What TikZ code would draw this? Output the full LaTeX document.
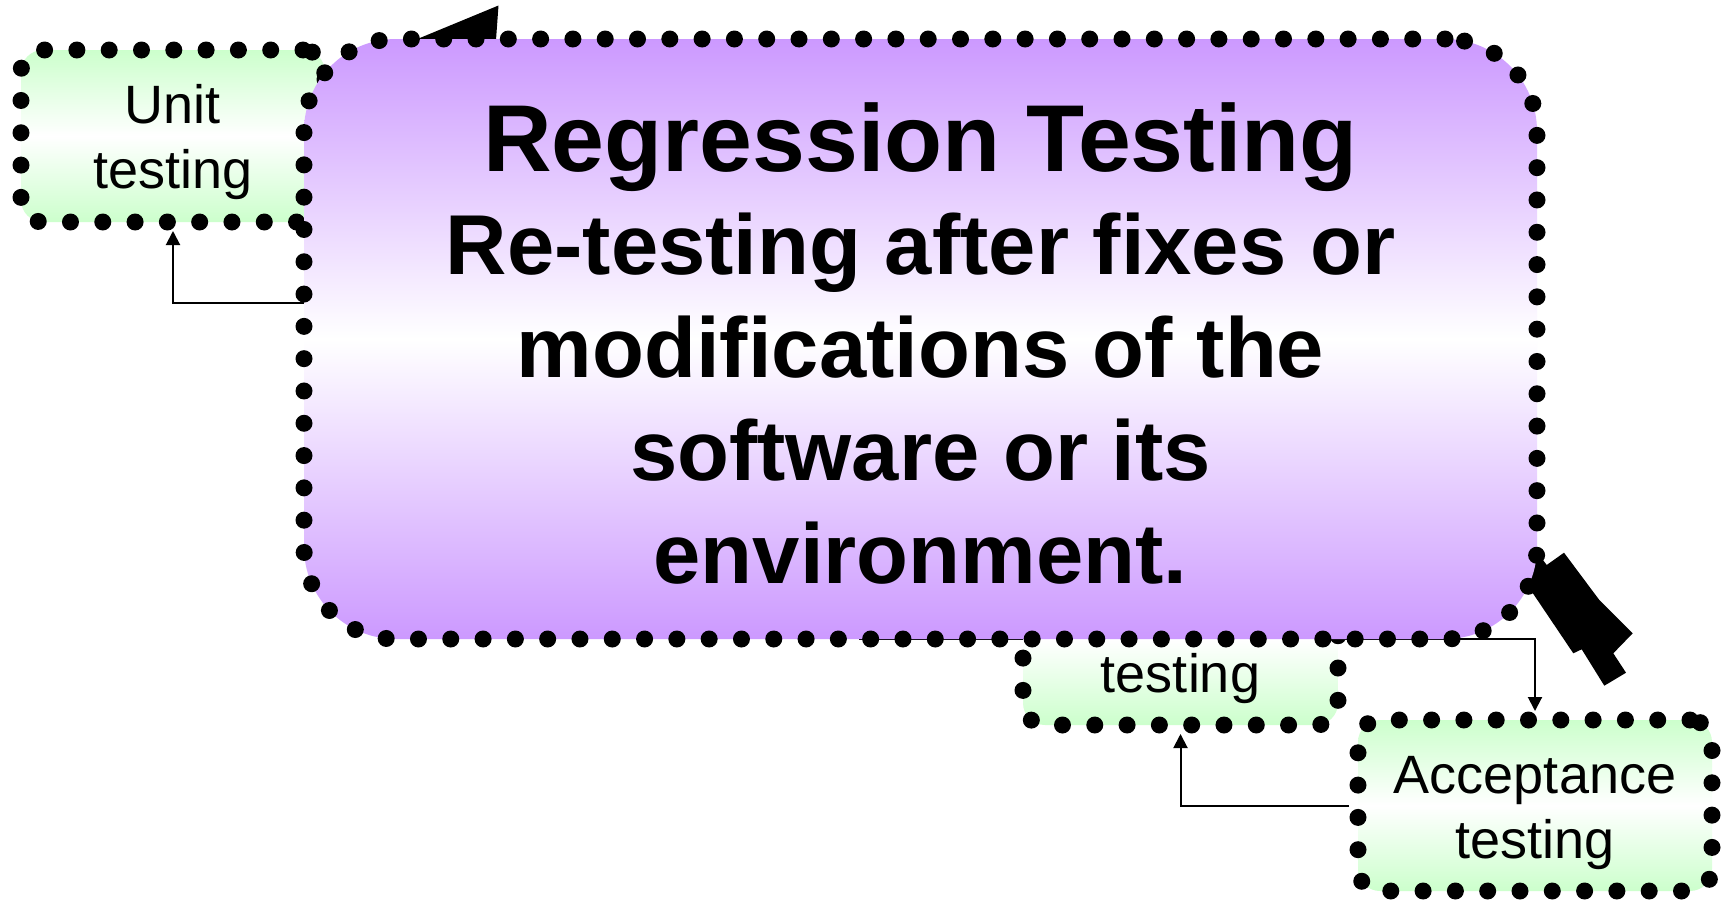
\documentclass[tikz,border=0pt]{standalone}
\usepackage{fontspec}
\setmainfont{Liberation Sans}
\usetikzlibrary{arrows.meta}
\pgfdeclarelayer{bg}
\pgfsetlayers{bg,main}
\definecolor{lilac}{RGB}{204,153,255}
\definecolor{mint}{RGB}{204,255,204}
\tikzset{
  dotborder/.style={draw=black, line width=17pt, line cap=round, dash pattern=on 0pt off 32.3pt},
  stagebox/.style={dotborder, rounded corners=22pt, top color=mint, bottom color=mint, middle color=white,
    inner sep=0pt, outer sep=9pt, align=center, font=\fontsize{54}{65}\selectfont},
  mainbox/.style={dotborder, rounded corners=92pt, top color=lilac, bottom color=lilac, middle color=white,
    inner sep=0pt, outer sep=0pt, align=center, font=\bfseries\fontsize{85}{103}\selectfont},
  link/.style={draw=black, line width=2pt, -{Triangle[length=14pt,width=14pt]}},
  blob/.style={fill=black}
}
% invisible strut that fixes the height of the first text line
\newcommand\lineup{\rule{0pt}{52pt}}
\begin{document}
\begin{tikzpicture}[x=1pt,y=-1pt]
\useasboundingbox (0,0) rectangle (1725,902);
% test stages
\node[stagebox, minimum width=304pt, minimum height=172pt] (U) at (173,136) {\lineup Unit\\testing};
\node[stagebox, minimum width=315pt, minimum height=171pt] (S) at (1180.5,639.5) {\lineup\\testing};
\node[stagebox, minimum width=354pt, minimum height=171pt] (A) at (1535,805.5) {\lineup Acceptance\\testing};
% regression testing call-out
\node[mainbox, minimum width=1233pt, minimum height=600pt] (R) at (920.5,339)
  {{\fontsize{95}{103}\selectfont\rule{0pt}{78pt}Regression Testing}\\Re-testing after fixes or\\modifications of the\\software or its\\environment.};
\begin{pgfonlayer}{bg}
\fill[white] (0,0) rectangle (1725,902);
\draw[link] ([yshift=36pt]R.west) -| (U.south);
\draw[link] ([xshift=-62pt]R.south) -| (A.north);
\draw[link] (A.west) -| (S.south);
% thick arrow pieces behind the call-out
\fill[blob] (415,40) -- (498.5,5.5) -- (496,40) -- cycle;
\fill[blob] (1536.7,551.7) -- (1546.7,565) -- (1564,552.7) -- (1599.3,600) -- (1632.7,633.3)
  -- (1613.3,653.3) -- (1626,672.7) -- (1604.3,685.7) -- (1581.7,649.3) -- (1573.3,653.3)
  -- (1527.3,585) -- (1500,560) -- cycle;
\end{pgfonlayer}
\end{tikzpicture}
\end{document}
